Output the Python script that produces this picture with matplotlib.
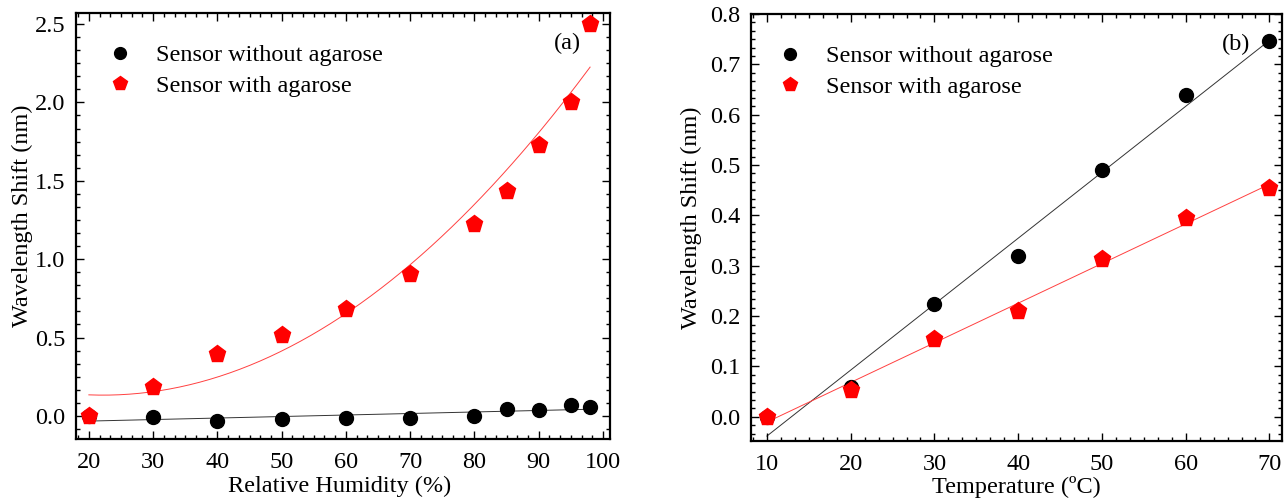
import numpy as np
import matplotlib
matplotlib.use("Agg")
import matplotlib.pyplot as plt
from matplotlib.ticker import MultipleLocator, AutoMinorLocator, FormatStrFormatter

plt.rcParams['font.family'] = ['Liberation Serif', 'DejaVu Serif']

# ---- Data: (a) humidity ----
rh = [20, 30, 40, 50, 60, 70, 80, 85, 90, 95, 98]
rh_without = [0.0, -0.009, -0.030, -0.021, -0.013, -0.015, 0.002, 0.043, 0.038, 0.072, 0.055]
rh_with = [0.0, 0.187, 0.398, 0.519, 0.680, 0.906, 1.223, 1.436, 1.727, 2.005, 2.500]

# ---- Data: (b) temperature ----
temp = [10, 20, 30, 40, 50, 60, 70]
t_without = [0.0, 0.060, 0.225, 0.320, 0.491, 0.640, 0.747]
t_with = [0.0, 0.053, 0.154, 0.211, 0.314, 0.394, 0.454]

label_without = "Sensor without agarose"
label_with = "Sensor with agarose"

FS = 17.5
W, H = 1286, 500
fig = plt.figure(figsize=(W / 100, H / 100), dpi=100)

def px_axes(x0, y0, x1, y1):
    return fig.add_axes([x0 / W, (H - y1) / H, (x1 - x0) / W, (y1 - y0) / H])

ax1 = px_axes(76, 13, 610, 439)
ax2 = px_axes(751, 14, 1282, 441)

def style(ax):
    for s in ax.spines.values():
        s.set_linewidth(1.6)
    ax.tick_params(which='both', direction='in', top=True, right=True,
                   labelsize=FS, width=1.0)
    ax.tick_params(axis='x', which='major', length=5.5, pad=9)
    ax.tick_params(axis='y', which='major', length=5.5, pad=7.5)
    ax.tick_params(which='minor', length=3.2)
    ax.xaxis.set_minor_locator(AutoMinorLocator(6))
    ax.yaxis.set_minor_locator(AutoMinorLocator(6))

def legend(ax, xfrac):
    ax.legend(loc='upper left', bbox_to_anchor=(xfrac, 0.978), frameon=False, fontsize=FS,
              handletextpad=0.88, labelspacing=0.35, markerscale=0.85, handlelength=1.2)

# Panel (a)
x = np.array(rh, float)
c_lin = np.polyfit(x, rh_without, 1)
c_quad = np.polyfit(x, rh_with, 2)
xf = np.linspace(min(rh), max(rh), 200)
ax1.plot(xf, np.polyval(c_lin, xf), color='#333333', lw=0.7, zorder=1)
ax1.plot(xf, np.polyval(c_quad, xf), color='#ff4040', lw=0.7, zorder=1)
ax1.plot(rh, rh_without, 'o', color='black', ms=10, ls='none', label=label_without, zorder=3)
ax1.plot(rh, rh_with, 'p', color='red', ms=12.5, ls='none', label=label_with, zorder=4)
ax1.set_xlim(18, 101.1)
ax1.set_ylim(-0.147, 2.57)
ax1.xaxis.set_major_locator(MultipleLocator(10))
ax1.yaxis.set_major_locator(MultipleLocator(0.5))
ax1.yaxis.set_major_formatter(FormatStrFormatter('%.1f'))
style(ax1)
ax1.set_xlabel("Relative Humidity (%)", fontsize=FS)
ax1.set_ylabel("Wavelength Shift (nm)", fontsize=FS)
ax1.xaxis.set_label_coords(0.494, -0.087)
ax1.yaxis.set_label_coords(-0.080, 0.523)
ax1.text(0.921, 0.928, "(a)", transform=ax1.transAxes, fontsize=FS, ha='center', va='center')
legend(ax1, 0.014)

# Panel (b)
tx = np.array(temp, float)
b_lin = np.polyfit(tx, t_without, 1)
r_lin = np.polyfit(tx, t_with, 1)
tf = np.linspace(min(temp), max(temp), 50)
ax2.plot(tf, np.polyval(b_lin, tf), color='#333333', lw=0.7, zorder=1)
ax2.plot(tf, np.polyval(r_lin, tf), color='#ff4040', lw=0.7, zorder=1)
ax2.plot(temp, t_without, 'o', color='black', ms=10, ls='none', label=label_without, zorder=3)
ax2.plot(temp, t_with, 'p', color='red', ms=12.5, ls='none', label=label_with, zorder=4)
ax2.set_xlim(8.1, 71.5)
ax2.set_ylim(-0.048, 0.8)
ax2.xaxis.set_major_locator(MultipleLocator(10))
ax2.yaxis.set_major_locator(MultipleLocator(0.1))
ax2.yaxis.set_major_formatter(FormatStrFormatter('%.1f'))
style(ax2)
ax2.set_xlabel("Temperature (ºC)", fontsize=FS)
ax2.set_ylabel("Wavelength Shift (nm)", fontsize=FS)
ax2.xaxis.set_label_coords(0.5, -0.083)
ax2.yaxis.set_label_coords(-0.092, 0.523)
ax2.text(0.913, 0.928, "(b)", transform=ax2.transAxes, fontsize=FS, ha='center', va='center')
legend(ax2, 0.005)

fig.savefig("out.png", dpi=100)
